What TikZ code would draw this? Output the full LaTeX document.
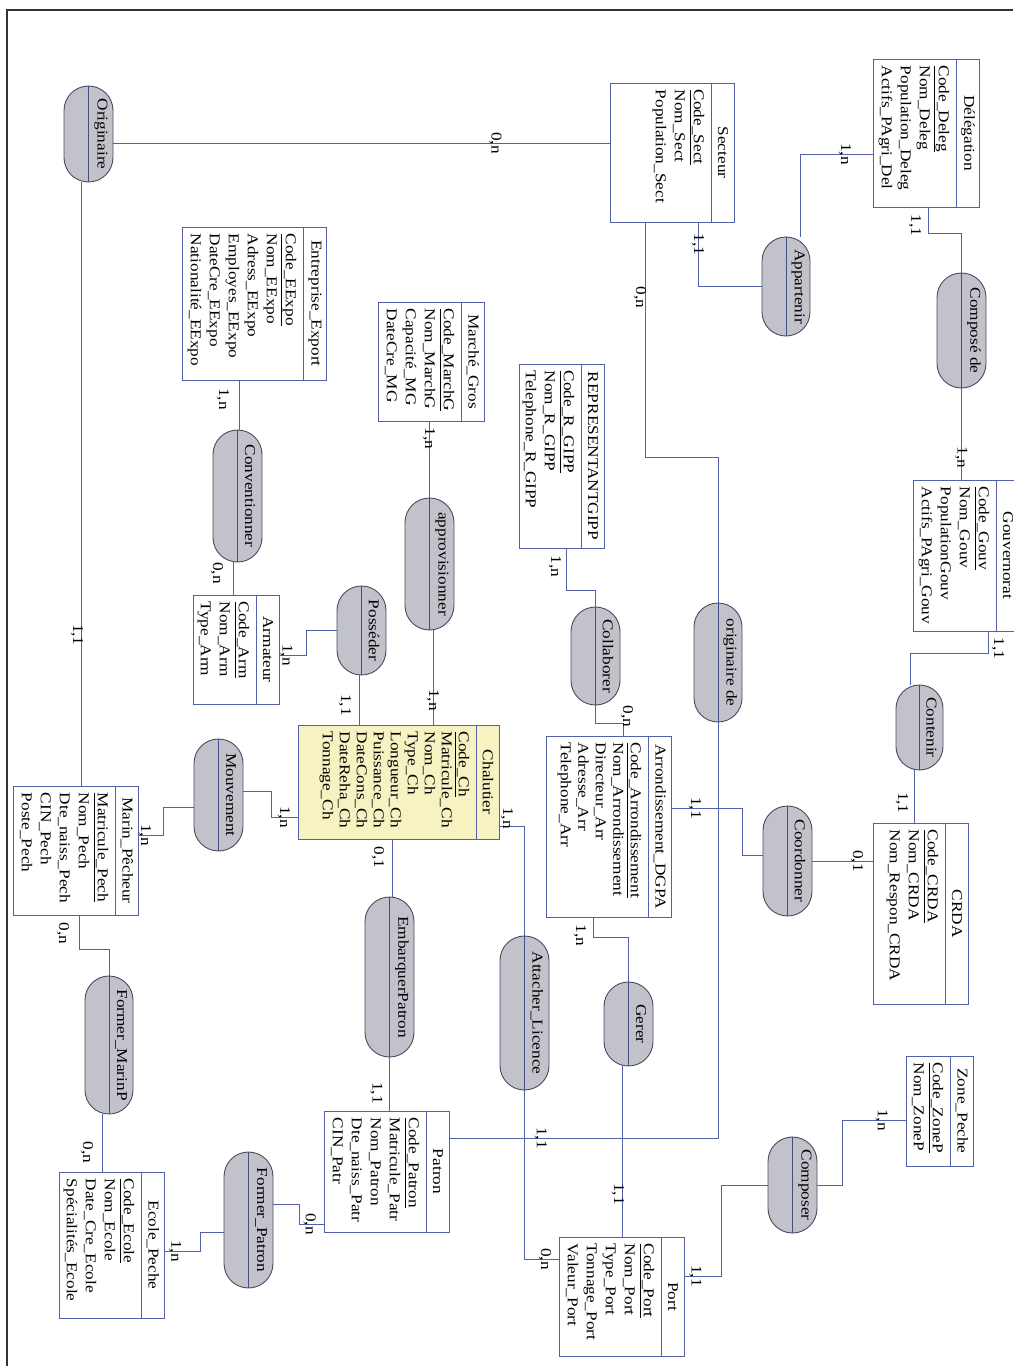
\documentclass[tikz,border=0pt]{standalone}
\usepackage{fontspec}
\setmainfont{Liberation Serif}[FakeStretch=1.15]
\usetikzlibrary{calc,shapes.misc}
\definecolor{mcdBleu}{HTML}{5560A8}
\definecolor{mcdGris}{HTML}{C2C2CB}
\definecolor{mcdBord}{HTML}{4A4A60}
\definecolor{mcdJaune}{HTML}{F6F2C2}
\definecolor{mcdCadre}{HTML}{333333}

\newcommand{\mcdfont}{\fontsize{15}{19}\selectfont}

% entite : [interligne]{nom}{x1}{y1}{x2}{y2}{titre}{attributs}
\newcommand{\entite}[8][19]{%
  \pgfmathsetmacro\entL{#6-#4}%
  \pgfmathsetmacro\entH{#5-#3}%
  \node[entite,minimum width=\entL pt,minimum height=\entH pt] (#2) at ({(#3+#5)/2},{(#4+#6)/2}) {};
  \draw[bord] ($(#2.north west)!23pt!(#2.south west)$) -- ($(#2.north east)!23pt!(#2.south east)$);
  \node[txt] (#2-titre) at ($(#2.north)!11.5pt!(#2.south)$) {#7};
  \node[txt,anchor=north west,align=left,font={\fontsize{15}{#1}\selectfont}] (#2-attr)
    at ($(#2.north west)!30pt!(#2.south west)+(0,7)$) {#8};
}
% association : {nom}{x1}{y1}{x2}{y2}{libelle}
\newcommand{\assoc}[6]{%
  \pgfmathsetmacro\assL{#5-#3}%
  \pgfmathsetmacro\assH{#4-#2}%
  \node[asso,minimum width=\assL pt,minimum height=\assH pt] (#1) at ({(#2+#4)/2},{(#3+#5)/2}) {};
  \draw[assodiv] (#1.west) -- (#1.east);
  \node[txt] (#1-nom) at ($(#1.center)!0.5!(#1.north)$) {#6};
}

\begin{document}
\begin{tikzpicture}[
 x=1pt,y=-1pt,
 entite/.style={draw=mcdBleu,fill=white,line width=0.8pt,rotate=-90,inner sep=0},
 bord/.style={draw=mcdBleu,line width=0.8pt},
 asso/.style={rounded rectangle,draw=mcdBord,fill=mcdGris,line width=0.9pt,rotate=-90,inner sep=0},
 assodiv/.style={draw=mcdBleu!80!black,line width=0.8pt},
 txt/.style={rotate=-90,inner sep=0,font=\mcdfont},
 lien/.style={draw=mcdBleu,line width=0.8pt},
 card/.style={rotate=-90,inner sep=0,font=\mcdfont}]
\useasboundingbox (0,0) rectangle (1013,1366);
\draw[mcdCadre,line width=1.5pt] (7,1366) -- (7,10) -- (1013,10);

% entites
\entite{delegation}{873}{59}{979}{207}{Délégation}{\underline{Code\_Deleg}\\Nom\_Deleg\\Population\_Deleg\\Actifs\_PAgri\_Del}
\entite{secteur}{610}{83}{734}{222}{Secteur}{\underline{Code\_Sect}\\Nom\_Sect\\Population\_Sect}
\entite{gouvernorat}{913}{480}{1019}{631}{Gouvernorat}{\underline{Code\_Gouv}\\Nom\_Gouv\\PopulationGouv\\Actifs\_PAgri\_Gouv}
\entite{crda}{873}{823}{968}{1004}{CRDA}{\underline{Code\_CRDA}\\Nom\_CRDA\\Nom\_Respon\_CRDA}
\entite{zone}{906}{1056}{973}{1166}{Zone\_Peche}{\underline{Code\_ZoneP}\\Nom\_ZoneP}
\entite{representant}{519}{364}{604}{548}{REPRESENTANTGIPP}{\underline{Code\_R\_GIPP}\\Nom\_R\_GIPP\\Telephone\_R\_GIPP}
\entite[17.5]{arrondissement}{546}{736}{671}{917}{Arrondissement\_DGPA}{\underline{Code\_Arrondissement}\\Nom\_Arrondissement\\Directeur\_Arr\\Adresse\_Arr\\Telephone\_Arr}
\entite{port}{559}{1237}{684}{1356}{Port}{\underline{Code\_Port}\\Nom\_Port\\Type\_Port\\Tonnage\_Port\\Valeur\_Port}
\entite{marche}{378}{302}{484}{421}{Marché\_Gros}{\underline{Code\_MarchG}\\Nom\_MarchG\\Capacité\_MG\\DateCre\_MG}
\entite{entreprise}{182}{227}{326}{380}{Entreprise\_Export}{\underline{Code\_EExpo}\\Nom\_EExpo\\Adress\_EExpo\\Employes\_EExpo\\DateCre\_EExpo\\Nationalité\_EExpo}
\entite{armateur}{193}{595}{279}{704}{Armateur}{\underline{Code\_Arm}\\Nom\_Arm\\Type\_Arm}
\begin{scope}[entite/.append style={fill=mcdJaune}]
\entite[17]{chalutier}{298}{725}{499}{839}{Chalutier}{\underline{Code\_Ch}\\Matricule\_Ch\\Nom\_Ch\\Type\_Ch\\Longueur\_Ch\\Puissance\_Ch\\DateCons\_Ch\\DateReha\_Ch\\Tonnage\_Ch}
\end{scope}
\entite{marin}{13}{786}{138}{915}{Marin\_Pêcheur}{\underline{Matricule\_Pech}\\Nom\_Pech\\Dte\_naiss\_Pech\\CIN\_Pech\\Poste\_Pech}
\entite{patron}{324}{1111}{449}{1232}{Patron}{\underline{Code\_Patron}\\Matricule\_Patr\\Nom\_Patron\\Dte\_naiss\_Patr\\CIN\_Patr}
\entite{ecole}{59}{1172}{164}{1318}{Ecole\_Peche}{\underline{Code\_Ecole}\\Nom\_Ecole\\Date\_Cre\_Ecole\\Spécialités\_Ecole}

% associations
\assoc{originaire}{64}{86}{113}{182}{Originaire}
\assoc{appartenir}{762}{237}{810}{336}{Appartenir}
\assoc{compose}{937}{273}{986}{388}{Composé de}
\assoc{conventionner}{213}{430}{262}{562}{Conventionner}
\assoc{approvisionner}{405}{498}{454}{630}{approvisionner}
\assoc{collaborer}{571}{607}{620}{705}{Collaborer}
\assoc{origde}{694}{603}{742}{722}{originaire de}
\assoc{contenir}{896}{685}{943}{770}{Contenir}
\assoc{coordonner}{763}{806}{812}{916}{Coordonner}
\assoc{possede}{337}{586}{386}{675}{Posséder}
\assoc{mouvement}{194}{739}{243}{851}{Mouvement}
\assoc{embarquer}{365}{897}{414}{1057}{EmbarquerPatron}
\assoc{attacher}{500}{936}{549}{1090}{Attacher\_Licence}
\assoc{gerer}{604}{982}{653}{1066}{Gerer}
\assoc{formerM}{85}{976}{133}{1114}{Former\_MarinP}
\assoc{formerP}{224}{1152}{273}{1288}{Former\_Patron}
\assoc{composer}{768}{1137}{817}{1233}{Composer}

% liens
\draw[lien] ([yshift=-9pt]originaire.north) -- node[card,pos=.77]{0,n} ([yshift=-9pt]originaire.north -| secteur.south);
\draw[lien] ([xshift=-7.5pt]originaire.east) -- node[xshift=-4pt,card,pos=.75]{1,1} ([xshift=-7.5pt]originaire.east |- marin.west);
\draw[lien] ([xshift=-27pt]secteur.east) -- node[xshift=-5pt,card,pos=.32]{0,n} ++(0,235) -| (origde.west);
\draw[lien] (origde.east) |- node[card,pos=.83]{1,1} ([yshift=33.5pt]patron.north);
\draw[lien] ([xshift=26pt]secteur.east) |- node[card,pos=.17]{1,1} (appartenir.south);
\draw[lien] ([yshift=-21pt]delegation.south) -| node[card,pos=.19]{1,n} ([xshift=14pt]appartenir.west);
\draw[lien] ([xshift=2pt]delegation.east) -- node[xshift=-13pt,card,pos=.7]{1,1} ++(0,26) -| (compose.west);
\draw[lien] (compose.east) -- node[card,pos=.76]{1,n} (compose.east |- gouvernorat.west);
\draw[lien] ([xshift=22pt]gouvernorat.east) -- node[xshift=10pt,card,pos=.77]{1,1} ++(0,22) -| ([xshift=-9.5pt]contenir.west);
\draw[lien] ([xshift=-5.5pt]contenir.east) -- node[xshift=-12pt,card,pos=.62]{1,1} ([xshift=-5.5pt]contenir.east |- crda.west);
\draw[lien] (coordonner.north) -- node[card,pos=.74]{0,1} (coordonner.north -| crda.south);
\draw[lien] ([yshift=18.5pt]arrondissement.north) -- node[card,pos=.33]{1,1} ++(71,0) |- ([yshift=6pt]coordonner.south);
\draw[lien] (collaborer.east) -- node[xshift=31.5pt,card,pos=.6]{0,n} ++(0,18) -| ([xshift=14.5pt]arrondissement.west);
\draw[lien] ([xshift=4.5pt]representant.east) -- node[xshift=-11pt,card,pos=.43]{1,n} ++(0,42) -| (collaborer.west);
\draw[lien] ([xshift=-15.5pt]arrondissement.east) -- node[xshift=-13pt,card,pos=.9]{1,n} ++(0,20) -| (gerer.west);
\draw[lien] ([xshift=-6.5pt]gerer.east) -- node[xshift=-4pt,card,pos=.75]{1,1} ([xshift=-6.5pt]gerer.east |- port.west);
\draw[lien] ([yshift=-44pt]chalutier.north) -| node[yshift=8pt,card,pos=.15]{1,n} (attacher.west);
\draw[lien] (attacher.east) |- node[card,pos=.8]{0,n} ([yshift=37.5pt]port.south);
\draw[lien] ([yshift=20.5pt]port.north) -- node[card,pos=.3]{1,1} ++(37,0) |- (composer.south);
\draw[lien] (composer.north) -- ++(25,0) |- node[card,pos=.81]{1,n} ([yshift=-9pt]zone.south);
\draw[lien] ([xshift=-6.5pt]chalutier.east) -- node[xshift=-14pt,card,pos=.32]{0,1} ([xshift=-6.5pt]chalutier.east |- embarquer.west);
\draw[lien] (embarquer.east) -- node[xshift=-13pt,card,pos=.67]{1,1} (embarquer.east |- patron.west);
\draw[lien] ([yshift=-52.5pt]patron.south) -- node[card,pos=.58]{0,n} ++(-24,0) |- ([yshift=16pt]formerP.north);
\draw[lien] ([yshift=-12pt]formerP.south) -- ++(-23,0) |- node[card,pos=.85]{1,n} ([yshift=-6pt]ecole.north);
\draw[lien] ([xshift=3.5pt]marin.east) -- node[xshift=-16pt,card,pos=.53]{0,n} ++(0,34) -| (formerM.west);
\draw[lien] ([xshift=-7pt]formerM.east) -- node[xshift=-15pt,card,pos=.67]{0,n} ([xshift=-7pt]formerM.east |- ecole.west);
\draw[lien] ([yshift=-12pt]mouvement.south) -- ++(-30,0) |- node[card,pos=.87]{1,n} ([yshift=15.5pt]marin.north);
\draw[lien] ([yshift=4pt]mouvement.north) -- ++(28,0) |- node[card,pos=.74]{1,n} ([yshift=-35pt]chalutier.south);
\draw[lien] (possede.south) -- ++(-30,0) |- node[card,pos=.87]{1,n} ([yshift=-5.5pt]armateur.north);
\draw[lien] ([xshift=-2.5pt]possede.east) -- node[xshift=-14pt,card,pos=.6]{1,1} ([xshift=-2.5pt]possede.east |- chalutier.west);
\draw[lien] ([xshift=3.5pt]approvisionner.east) -- node[card,pos=.74]{1,n} ([xshift=3.5pt]approvisionner.east |- chalutier.west);
\draw[lien] ([xshift=-2pt]marche.east) -- node[card,pos=.22]{1,n} ([xshift=-2pt]marche.east |- approvisionner.west);
\draw[lien] ([xshift=-15pt]entreprise.east) -- node[xshift=-16pt,card,pos=.38]{1,n} ([xshift=-15pt]entreprise.east |- conventionner.west);
\draw[lien] ([xshift=-4.5pt]conventionner.east) -- node[xshift=-16pt,card,pos=.33]{0,n} ([xshift=-4.5pt]conventionner.east |- armateur.west);
\end{tikzpicture}
\end{document}
